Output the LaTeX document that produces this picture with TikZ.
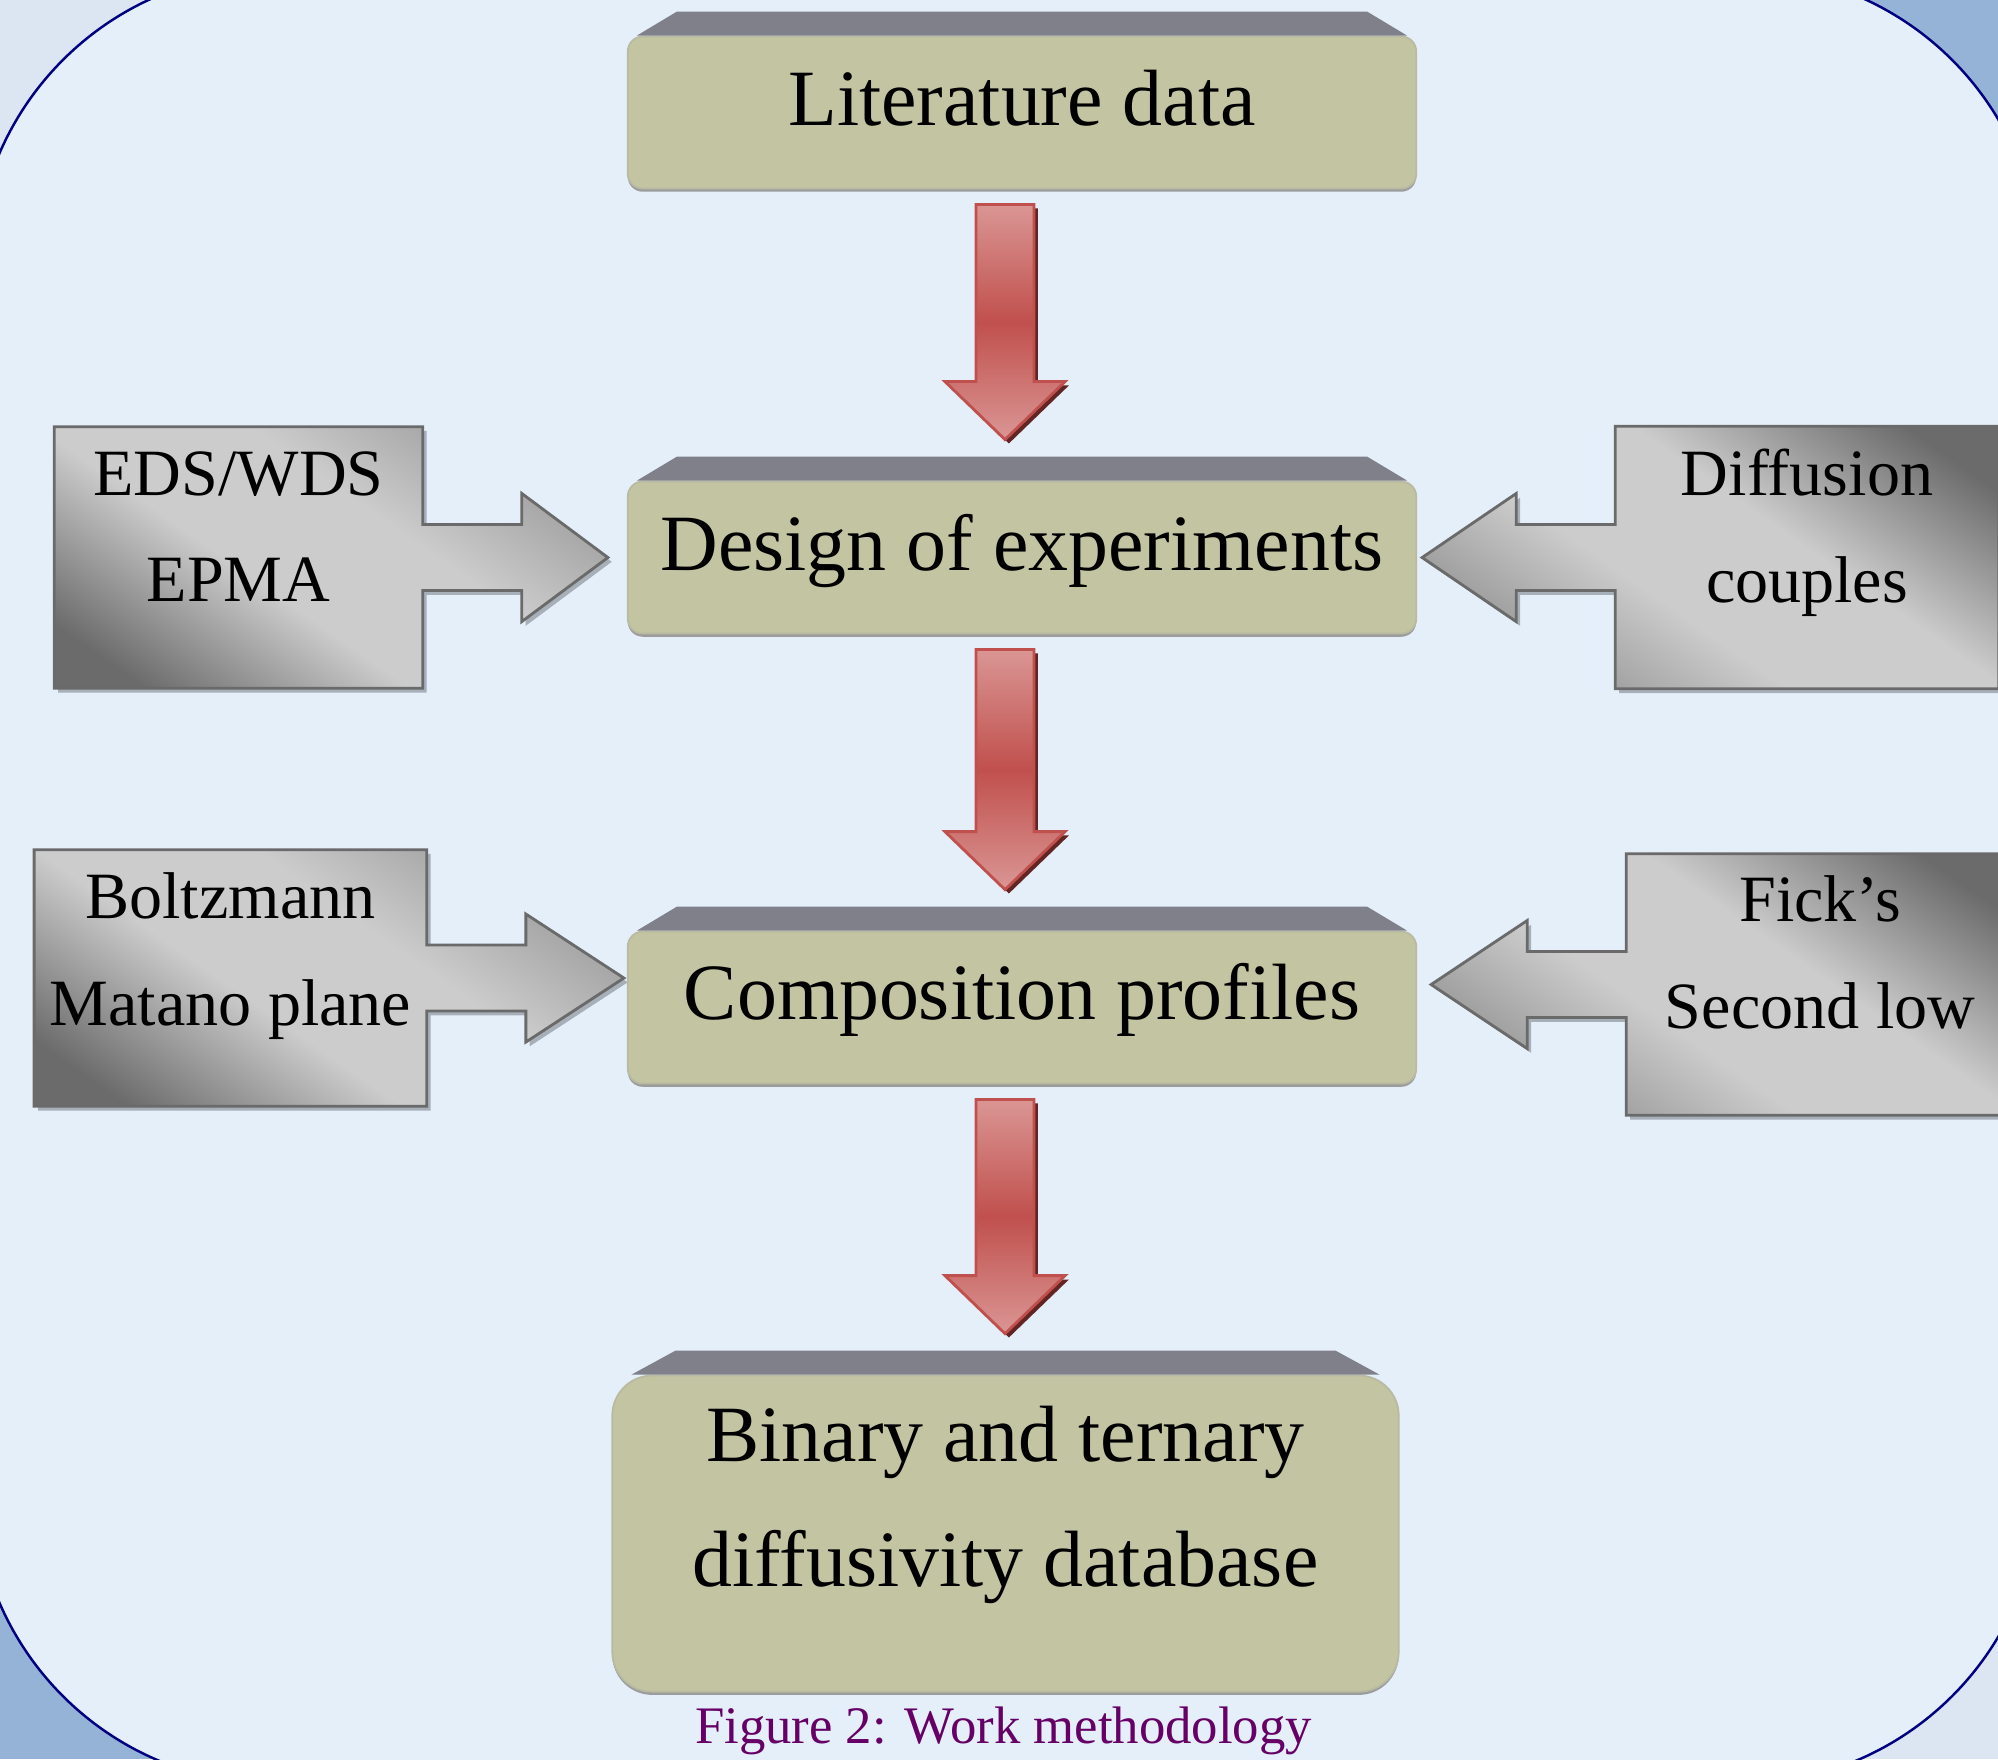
\documentclass[tikz,border=0pt]{standalone}
\usepackage{fontspec}
\setmainfont{Liberation Serif}
\usetikzlibrary{positioning,calc,shadows}

\definecolor{bgfill}{HTML}{E5EFFA}
\definecolor{bgpale}{HTML}{DCE6F2}
\definecolor{bgblue}{HTML}{95B3D7}
\definecolor{framecol}{HTML}{000080}
\definecolor{stagefill}{HTML}{C3C4A1}
\definecolor{stagerim}{HTML}{B9BAA2}
\definecolor{stageshadow}{HTML}{9C9C9C}
\definecolor{stagetopfill}{HTML}{7F8089}
\definecolor{flowlight}{HTML}{DA9694}
\definecolor{flowdark}{HTML}{C0504D}
\definecolor{flowshadow}{HTML}{632523}
\definecolor{tooldark}{HTML}{6B6B6B}
\definecolor{toolmid}{HTML}{959595}
\definecolor{toolmiddark}{HTML}{8A8A8A}
\definecolor{toollight}{HTML}{CCCCCC}
\definecolor{toolline}{HTML}{6A6A6A}
\definecolor{toolshadow}{HTML}{A7AFB9}
\definecolor{capcol}{HTML}{660066}

\pgfdeclareverticalshading{toolleftshade}{100bp}{color(0bp)=(tooldark); color(22bp)=(tooldark);
  color(42bp)=(toollight); color(58bp)=(toollight); color(78bp)=(toolmid); color(100bp)=(toolmid)}
\pgfdeclareverticalshading{toolrightshade}{100bp}{color(0bp)=(toolmiddark); color(22bp)=(toolmiddark);
  color(42bp)=(toollight); color(58bp)=(toollight); color(78bp)=(tooldark); color(100bp)=(tooldark)}

\tikzset{
  panel/.style={fill=bgfill, draw=framecol, line width=0.7pt, rounded corners=3cm},
  stage/.style={rectangle, rounded corners=0.15cm, fill=stagefill, draw=stagerim, line width=0.5pt,
    minimum width=7.88cm, minimum height=1.52cm, inner sep=0pt,
    drop shadow={shadow xshift=0pt, shadow yshift=-0.9pt, fill=stageshadow, opacity=1}},
  stagetop/.style={fill=stagetopfill},
  stagetext/.style={font=\fontsize{22.7pt}{35.6pt}\selectfont, inner sep=0pt,
    text height=15.9pt, text depth=5pt},
  stagelines/.style={font=\fontsize{22.7pt}{35.6pt}\selectfont, inner sep=0pt, align=center},
  flow/.style={draw=flowdark, line width=0.8pt, top color=flowlight, bottom color=flowlight,
    middle color=flowdark,
    drop shadow={shadow xshift=1.1pt, shadow yshift=-1.1pt, fill=flowshadow, opacity=1}},
  toolbox/.style={rectangle, inner sep=0pt},
  toolleft/.style={draw=toolline, line width=0.8pt, shade, shading=toolleftshade, shading angle=-35,
    drop shadow={shadow xshift=1.1pt, shadow yshift=-1.2pt, fill=toolshadow, opacity=1}},
  toolright/.style={draw=toolline, line width=0.8pt, shade, shading=toolrightshade, shading angle=-35,
    drop shadow={shadow xshift=1.1pt, shadow yshift=-1.2pt, fill=toolshadow, opacity=1}},
  tooltext/.style={font=\fontsize{18.8pt}{30.3pt}\selectfont, inner sep=0pt, align=center},
  captext/.style={font=\fontsize{15pt}{18pt}\selectfont, text=capcol, inner sep=0pt}
}

% block arrow between two stages
\newcommand\flowarrow[2]{%
  \draw[flow] let \p1=($(#1.south)+(-17,15)$), \p2=($(#2.north)+(-17,-41)$) in
    (\x1-0.29cm,\y1) -- (\x1+0.29cm,\y1) -- (\x1+0.29cm,\y2+0.58cm)
    -- (\x1+0.6cm,\y2+0.58cm) -- (\x1,\y2) -- (\x1-0.6cm,\y2+0.58cm)
    -- (\x1-0.29cm,\y2+0.58cm) -- cycle;}

% box with arrow pointing right / left at a stage
\newcommand\lefttool[3]{%
  \draw[toolleft] let \p1=(#1.east), \p2=($(#2.west)+(-#3,0)$) in
    (#1.north west) -- (#1.north east) -- (\x1,\y1+0.33cm) -- (\x1+0.99cm,\y1+0.33cm)
    -- (\x1+0.99cm,\y1+0.64cm) -- (\x2,\y1) -- (\x1+0.99cm,\y1-0.64cm)
    -- (\x1+0.99cm,\y1-0.33cm) -- (\x1,\y1-0.33cm) -- (#1.south east) -- (#1.south west) -- cycle;}
\newcommand\righttool[3]{%
  \draw[toolright] let \p1=(#1.west), \p2=($(#2.east)+(#3,0)$) in
    (#1.north east) -- (#1.north west) -- (\x1,\y1+0.33cm) -- (\x1-0.99cm,\y1+0.33cm)
    -- (\x1-0.99cm,\y1+0.64cm) -- (\x2,\y1) -- (\x1-0.99cm,\y1-0.64cm)
    -- (\x1-0.99cm,\y1-0.33cm) -- (\x1,\y1-0.33cm) -- (#1.south west) -- (#1.south east) -- cycle;}

\begin{document}
\begin{tikzpicture}[x=0.01cm, y=-0.01cm]

  % Background
  \useasboundingbox (0,0) rectangle (1998,1759);
  \clip (0,0) rectangle (1998,1759);
  \fill[bgpale] (0,0) rectangle (999,880);
  \fill[bgblue] (999,0) rectangle (1998,880);
  \fill[bgblue] (0,880) rectangle (999,1759);
  \fill[bgpale] (999,880) rectangle (1998,1759);
  \draw[panel] (-25,-28) rectangle (2040,1784);

  % Define stages
  \node[stage] (lit) at (1022,112.5) {};
  \node[stage, below=2.91cm of lit] (doe) {};
  \node[stage, below=2.96cm of doe] (comp) {};
  \node[stage, below=2.90cm of comp, xshift=-0.165cm, minimum width=7.86cm,
    minimum height=3.16cm, rounded corners=0.4cm] (bin) {};

  \foreach \s/\a/\b in {lit/50/10, doe/50/10, comp/50/10, bin/64/20}
    \fill[stagetop] ($(\s.north west)+(\b,0)$) -- ($(\s.north west)+(\a,-24)$)
      -- ($(\s.north east)+(-\a,-24)$) -- ($(\s.north east)+(-\b,0)$) -- cycle;

  \node[stagetext] (littext) at ($(lit)+(0,-6)$) {Literature data};
  \node[stagetext] (doetext) at ($(doe)+(0,-6)$) {Design of experiments};
  \node[stagetext] (comptext) at ($(comp)+(0,-7)$) {Composition profiles};
  \node[stagelines] (bintext) at ($(bin)+(0,-29)$) {Binary and ternary\\diffusivity database};

  % Connect the stages
  \flowarrow{lit}{doe}
  \flowarrow{doe}{comp}
  \flowarrow{comp}{bin}

  % Side inputs
  \node[toolbox, minimum width=3.67cm, minimum height=2.60cm, left=2.04cm of doe] (eds) {};
  \node[toolbox, minimum width=3.82cm, minimum height=2.61cm, right=1.98cm of doe] (dif) {};
  \node[toolbox, minimum width=3.91cm, minimum height=2.55cm, left=2.00cm of comp, yshift=0.295cm] (bol) {};
  \node[toolbox, minimum width=3.86cm, minimum height=2.60cm, right=2.09cm of comp, yshift=0.23cm] (fick) {};

  \lefttool{eds}{doe}{19}
  \righttool{dif}{doe}{5}
  \lefttool{bol}{comp}{3}
  \righttool{fick}{comp}{14}

  \node[tooltext] (edstext) at ($(eds)+(0,-31)$) {EDS/WDS\\EPMA};
  \node[tooltext] (diftext) at ($(dif)+(0,-25)$) {Diffusion\\couples};
  \node[tooltext] (boltext) at ($(bol)+(0,-22)$) {Boltzmann\\Matano plane};
  \node[tooltext] (ficktext) at ($(fick)+(0,-32)$) {Fick’s\\Second low};

  % Caption
  \node[captext, anchor=base] (cap) at ($(bin.south)+(-2,51)$) {Figure 2: Work methodology};

\end{tikzpicture}
\end{document}
